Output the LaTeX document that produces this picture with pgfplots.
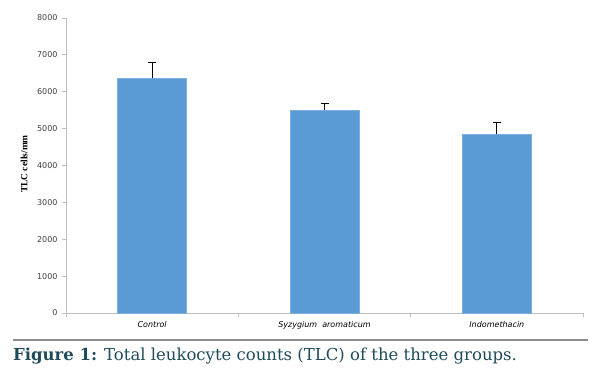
\documentclass[border=0pt]{standalone}
\usepackage{fontspec}
\setmainfont{Liberation Serif}
\newfontfamily\verd{DejaVu Sans}
\newfontfamily\capfont{DejaVu Serif}
\usepackage{pgfplots}
\pgfplotsset{compat=1.18}
\definecolor{barblue}{HTML}{5B9BD5}
\definecolor{axgray}{HTML}{BFBFBF}
\definecolor{capcol}{HTML}{1F4B5A}
\definecolor{ticktext}{HTML}{404040}
\begin{document}
\begin{tikzpicture}[x=1pt,y=1pt]
\path[use as bounding box] (0,0) rectangle (604,368);
\begin{axis}[
  at={(66pt,55pt)}, anchor=south west,
  scale only axis, width=517pt, height=295pt,
  xmin=0, xmax=3, ymin=0, ymax=8000,
  axis x line*=bottom, axis y line*=left,
  axis line style={axgray, line width=0.8pt},
  xtick={0.5,1.5,2.5},
  xticklabels={Control,Syzygium\ \ aromaticum,Indomethacin},
  minor xtick={0,1,2,3},
  major x tick style={draw=none},
  minor tick length=4pt,
  every minor tick/.style={axgray, line width=0.8pt},
  ytick={0,1000,...,8000},
  major tick length=4pt,
  tick align=outside,
  y tick style={axgray, line width=0.8pt},
  scaled y ticks=false,
  yticklabel style={font=\verd\fontsize{8}{9}\selectfont, text=ticktext, /pgf/number format/1000 sep={}, xshift=-1pt},
  /pgf/number format/assume math mode=true,
  xticklabel style={font=\verd\itshape\fontsize{8}{9}\selectfont, text=black, yshift=-1pt},
  ylabel={\textbf{TLC cells/mm}},
  ylabel style={at={(axis description cs:-0.081,0.505)}, anchor=center, font=\fontsize{9.5}{11}\selectfont},
  ybar, bar width=69pt,
]
\addplot[fill=barblue, draw=barblue!80!white, line width=0.5pt,
  error bars/.cd, y dir=plus, y explicit,
  error bar style={black, line width=0.8pt},
  error mark options={rotate=90, mark size=4pt, black, line width=0.8pt}]
  coordinates {(0.5,6360) +- (0,430) (1.5,5495) +- (0,200) (2.5,4845) +- (0,325)};
\end{axis}
\draw[color=gray!90, line width=1.2pt] (13,28) -- (588,28);
\node[anchor=base west, inner sep=0, text=capcol, font=\capfont\fontsize{16.5}{20}\selectfont] at (13,8) {\textbf{Figure 1:} Total leukocyte counts (TLC) of the three groups.};
\end{tikzpicture}
\end{document}
